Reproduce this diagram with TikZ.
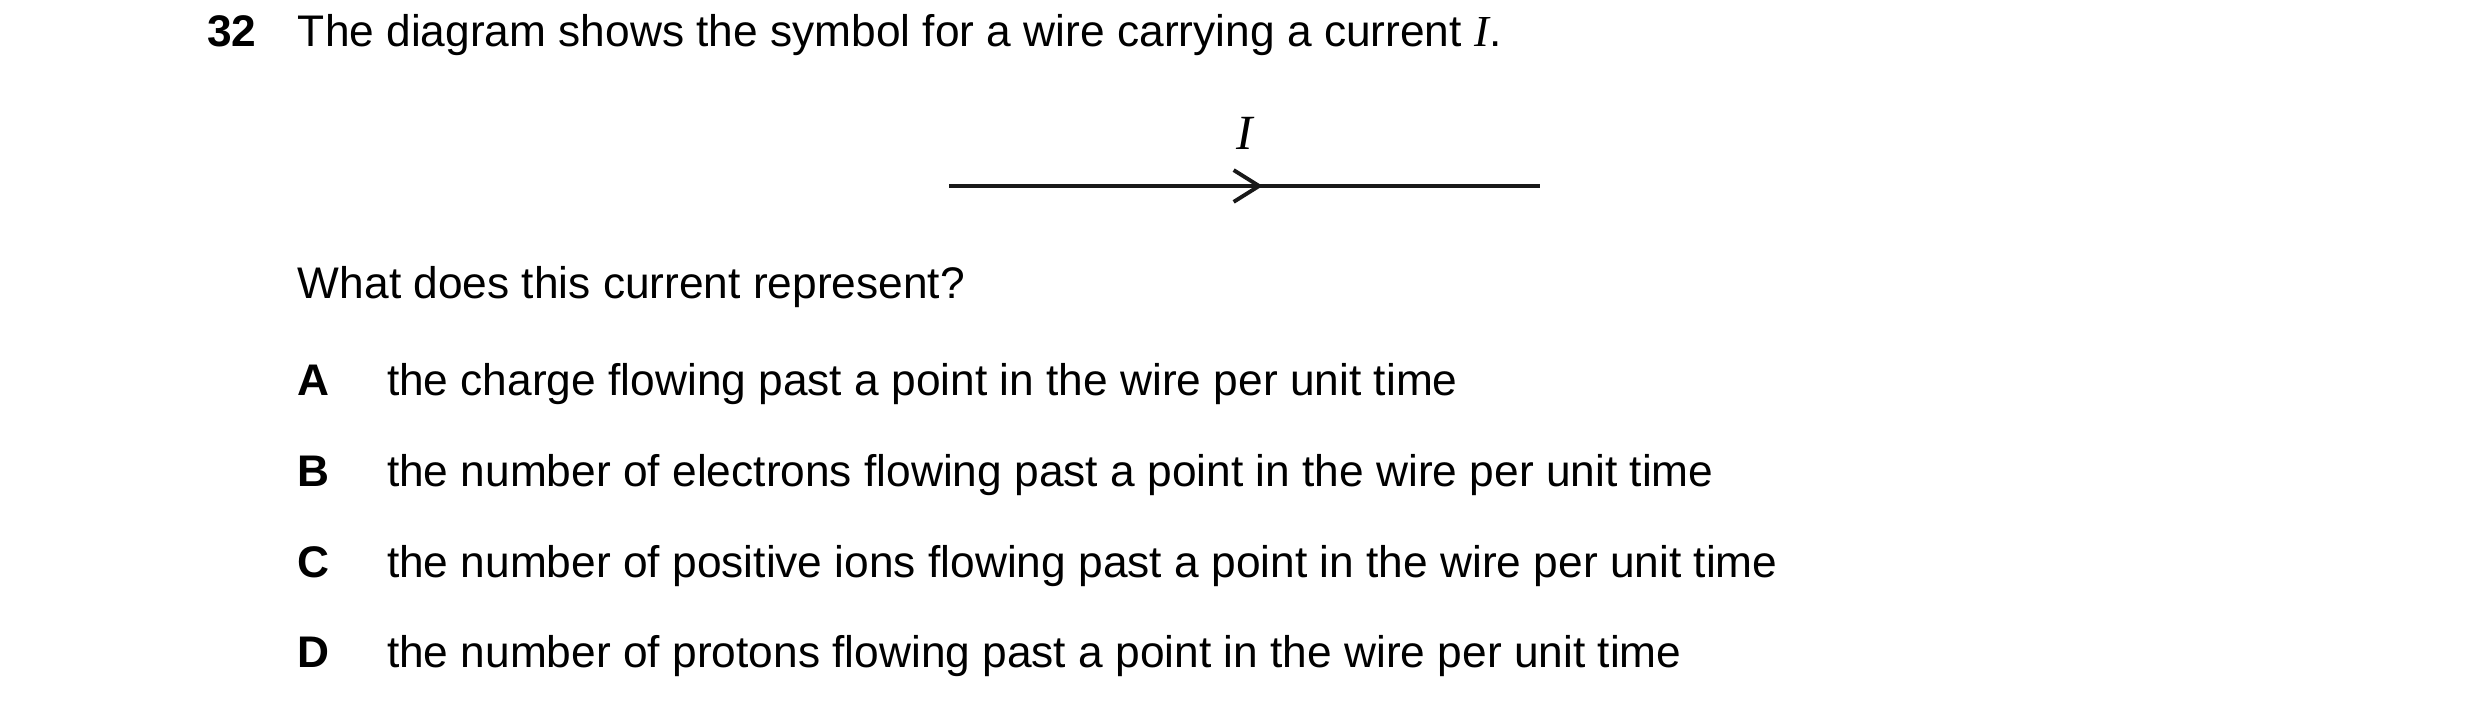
\documentclass[tikz,border=0pt]{standalone}
\usepackage{fontspec}
\setmainfont{Liberation Sans}
\newfontfamily\serifI{Liberation Serif}
\begin{document}
\begin{tikzpicture}[x=0.0159cm,y=-0.0159cm,
  txt/.style={anchor=base west,inner sep=0pt,font=\fontsize{12.6pt}{15pt}\selectfont},
  lbl/.style={txt,font=\fontsize{12.6pt}{15pt}\selectfont\bfseries},
  wire/.style={line width=1.1pt,color=black!90}]
\useasboundingbox (0,0) rectangle (1560,448.5);
\node[lbl] (n) at (130,29) {32};
\node[txt] (q) at (187,29) {The diagram shows the symbol for a wire carrying a current {\serifI\itshape I}.};
\coordinate (w1) at (597,117);
\coordinate (w2) at (969,117);
\coordinate (tip) at (792,117);
\coordinate (ta) at (776,107);
\coordinate (tb) at (776,127);
\draw[wire] (w1) -- (w2);
\draw[wire,line join=miter] (ta) -- (tip) -- (tb);
\node[anchor=base,inner sep=0pt,font=\fontsize{14pt}{16pt}\selectfont\serifI\itshape] (I) at (783,94) {I};
\node[txt] (w) at (187,188) {What does this current represent?};
\node[lbl] (A) at (187,249) {A};
\node[txt] (a) at (243,249) {the charge flowing past a point in the wire per unit time};
\node[lbl] (B) at (187,306) {B};
\node[txt] (b) at (243,306) {the number of electrons flowing past a point in the wire per unit time};
\node[lbl] (C) at (187,363) {C};
\node[txt] (c) at (243,363) {the number of positive ions flowing past a point in the wire per unit time};
\node[lbl] (D) at (187,420) {D};
\node[txt] (d) at (243,420) {the number of protons flowing past a point in the wire per unit time};
\end{tikzpicture}
\end{document}
